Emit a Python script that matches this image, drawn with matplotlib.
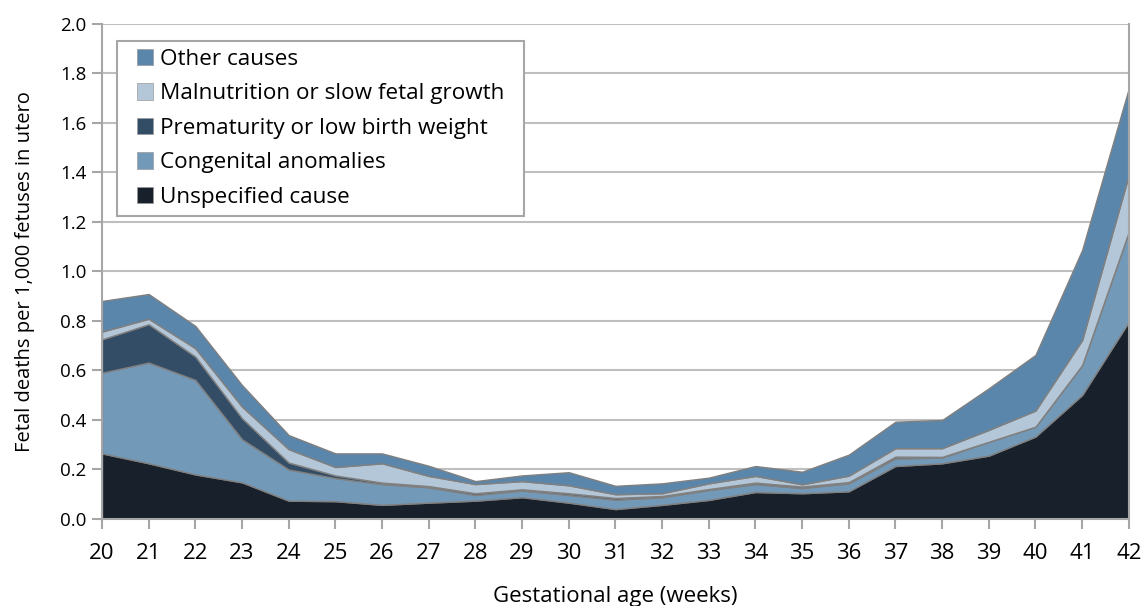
import numpy as np
import matplotlib.pyplot as plt
from matplotlib.patches import Patch, Rectangle

plt.rcParams['font.family'] = ['Open Sans', 'DejaVu Sans']

weeks = list(range(20, 43))

unspecified = [0.265, 0.225, 0.18, 0.148, 0.074, 0.072, 0.057, 0.066, 0.074, 0.088, 0.066, 0.04,
               0.057, 0.077, 0.109, 0.104, 0.112, 0.214, 0.225, 0.256, 0.333, 0.501, 0.797]
congenital = [0.326, 0.407, 0.382, 0.174, 0.126, 0.093, 0.084, 0.062, 0.023, 0.027, 0.031, 0.038,
              0.031, 0.040, 0.032, 0.021, 0.032, 0.031, 0.023, 0.056, 0.040, 0.121, 0.364]
prematurity = [0.135, 0.155, 0.094, 0.085, 0.028, 0.011, 0.006, 0.005, 0.007, 0.005, 0.007, 0.007,
               0.005, 0.004, 0.006, 0.006, 0.005, 0.007, 0.003, 0.0, 0.0, 0.0, 0.0]
malnutrition = [0.031, 0.022, 0.034, 0.047, 0.054, 0.034, 0.078, 0.041, 0.037, 0.033, 0.032, 0.015,
                0.011, 0.023, 0.027, 0.009, 0.026, 0.034, 0.035, 0.048, 0.065, 0.101, 0.229]
other = [0.124, 0.1, 0.09, 0.087, 0.057, 0.055, 0.04, 0.041, 0.012, 0.023, 0.053, 0.034,
         0.04, 0.023, 0.04, 0.051, 0.085, 0.107, 0.114, 0.168, 0.225, 0.364, 0.35]

labels = ["Unspecified cause", "Congenital anomalies", "Prematurity or low birth weight",
          "Malnutrition or slow fetal growth", "Other causes"]
colors = ["#18212b", "#7399b8", "#344d66", "#b3c7d9", "#5b86ab"]

fig = plt.figure(figsize=(11.46, 6.06), dpi=100)
ax = fig.add_axes([0.089, 0.1436, 0.896, 0.8168])

ax.stackplot(weeks, unspecified, congenital, prematurity, malnutrition, other,
             colors=colors, edgecolor="#808080", linewidth=1.0, zorder=2)

ax.set_xlim(20, 42)
ax.set_ylim(0, 2.0)
ax.set_xticks(weeks)
ax.set_yticks(np.arange(0, 2.01, 0.2))
ax.set_yticklabels([f"{v:.1f}" for v in np.arange(0, 2.01, 0.2)])
ax.yaxis.grid(True, color="#bfbfbf", linewidth=1.5, zorder=0)
ax.set_axisbelow(True)

for s in ["left", "bottom", "right"]:
    ax.spines[s].set_color("#a6a6a6")
    ax.spines[s].set_linewidth(1.5)
ax.spines["top"].set_visible(False)
ax.tick_params(axis="x", direction="out", length=7, width=1.5, color="#a6a6a6",
               labelsize=16, pad=10)
ax.tick_params(axis="y", direction="out", length=7, width=1.5, color="#a6a6a6",
               labelsize=13.5, pad=4)

ax.set_xlabel("Gestational age (weeks)", fontsize=16, labelpad=16)
ax.set_ylabel("Fetal deaths per 1,000 fetuses in utero", fontsize=14.5, labelpad=18)

handles = [Patch(facecolor=c, edgecolor="#999999", linewidth=0.5, label=l)
           for c, l in zip(colors, labels)][::-1]
leg = ax.legend(handles=handles, loc="upper left", bbox_to_anchor=(0.0263, 0.9657),
                fontsize=16.2, frameon=False,
                handlelength=0.72, handleheight=0.72, handletextpad=0.3,
                labelspacing=0.6, borderpad=0.35, borderaxespad=0)

# legend box with wider side padding, drawn behind the legend entries
fig.canvas.draw()
bb = leg.get_window_extent()
W, H = fig.bbox.width, fig.bbox.height
px = 12
box = Rectangle(((bb.x0 - px) / W, bb.y0 / H), (bb.width + 2 * px) / W, bb.height / H,
                transform=fig.transFigure, facecolor="white", edgecolor="#a6a6a6",
                linewidth=1.5, zorder=4)
ax.add_artist(box)
leg.set_zorder(5)

fig.savefig("out.png", dpi=100)
